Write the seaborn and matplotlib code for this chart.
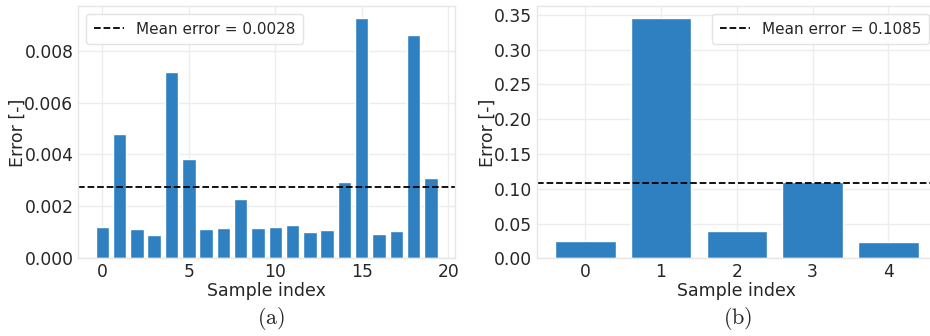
import numpy as np
import pandas as pd
import matplotlib
matplotlib.use("Agg")
import matplotlib.pyplot as plt
import seaborn as sns

# Per-sample errors, set (a): 20 samples
samples_a = list(range(20))
errors_a = [0.00120, 0.00478, 0.00113, 0.00089, 0.00717, 0.00384, 0.00115,
            0.00118, 0.00229, 0.00117, 0.00120, 0.00127, 0.00100, 0.00111,
            0.00294, 0.00924, 0.00094, 0.00104, 0.00859, 0.00311]

# Per-sample errors, set (b): 5 samples
samples_b = list(range(5))
errors_b = [0.0250, 0.3450, 0.0390, 0.1100, 0.0235]

xticks_a = [0, 5, 10, 15, 20]
captions = ["(a)", "(b)"]

BAR_COLOR = "#2f80c1"

sns.set_theme(style="whitegrid")
plt.rcParams["font.family"] = ["DejaVu Sans"]
plt.rcParams["mathtext.fontset"] = "cm"
plt.rcParams["axes.edgecolor"] = "#e6e6e6"
plt.rcParams["grid.color"] = "#ededed"

fig = plt.figure(figsize=(9.3, 3.36), dpi=100)
ax_a = fig.add_axes([0.0842, 0.231, 0.405, 0.750])
ax_b = fig.add_axes([0.5771, 0.231, 0.4304, 0.750])

df_a = pd.DataFrame({"sample": samples_a, "error": errors_a})
df_b = pd.DataFrame({"sample": samples_b, "error": errors_b})

sns.barplot(data=df_a, x="sample", y="error", native_scale=True,
            color=BAR_COLOR, saturation=1, width=0.78, ax=ax_a)
sns.barplot(data=df_b, x="sample", y="error", native_scale=True,
            color=BAR_COLOR, saturation=1, width=0.8, ax=ax_b)

for ax, errs, loc in [(ax_a, errors_a, "upper left"), (ax_b, errors_b, "upper right")]:
    mean_err = float(np.mean(errs))
    ax.axhline(mean_err, color="black", linestyle="--", linewidth=1.3,
               label=f"Mean error = {mean_err:.4f}")
    n = len(errs)
    ax.set_xlim(-0.4 - 0.05 * (n - 0.2), n - 0.6 + 0.05 * (n - 0.2))
    ax.set_ylim(0, max(errs) * 1.05)
    ax.set_xlabel("Sample index", fontsize=12.5, labelpad=0.5)
    ax.set_ylabel("Error [-]", fontsize=12.5, labelpad=-2)
    ax.tick_params(axis="both", labelsize=12.3, pad=3.5, length=0)
    ax.legend(loc=loc, fontsize=11, frameon=True, framealpha=0.9,
              edgecolor="#e0e0e0", handlelength=2.0, borderpad=0.5)
    for sp in ax.spines.values():
        sp.set_linewidth(1.0)

ax_a.set_xticks(xticks_a)
ax_a.set_yticks([0.0, 0.002, 0.004, 0.006, 0.008])
ax_a.yaxis.set_major_formatter(matplotlib.ticker.FormatStrFormatter("%.3f"))
ax_b.set_xticks(samples_b)
ax_b.set_yticks(np.arange(0, 0.351, 0.05))
ax_b.yaxis.set_major_formatter(matplotlib.ticker.FormatStrFormatter("%.2f"))

for ax, cap in zip([ax_a, ax_b], captions):
    pos = ax.get_position()
    fig.text((pos.x0 + min(pos.x1, 1.0)) / 2 + 0.005, 0.052,
             r"$\mathrm{" + cap + "}$", ha="center", va="center", fontsize=16)

fig.savefig("out.png", dpi=100)
